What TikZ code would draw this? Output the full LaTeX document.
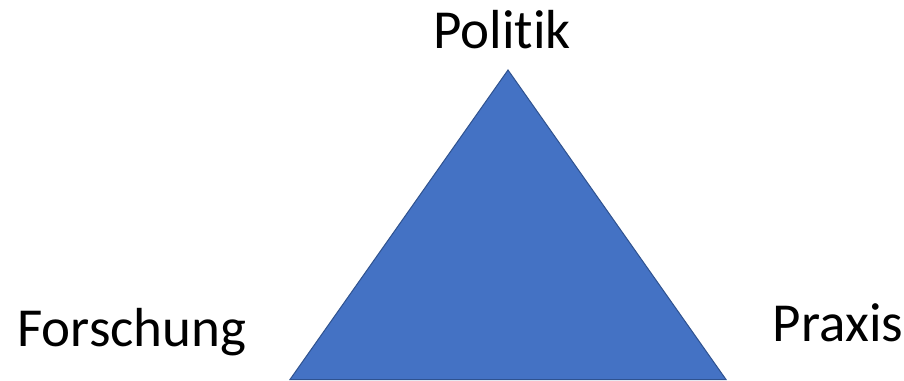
\documentclass[tikz,border=0pt]{standalone}
\usepackage{fontspec}
\setmainfont[Ligatures=NoCommon]{Carlito}
\usepackage{xcolor}
\definecolor{triblue}{HTML}{4472C4}
\definecolor{triedge}{HTML}{2F528F}
\usetikzlibrary{positioning}

\begin{document}
\begin{tikzpicture}[x=1pt,y=-1pt,label/.style={font=\fontsize{55}{66}\selectfont,anchor=base,inner sep=0pt}]
  \useasboundingbox (0,0) rectangle (904,380);
  \coordinate (top) at (508,70);
  \coordinate (left) at (290,379.5);
  \coordinate (right) at (726,379.5);
  \filldraw[fill=triblue,draw=triedge,line width=1pt,line join=miter] (top) -- (right) -- (left) -- cycle;
  \node[label] (politik) at (502,48) {Politik};
  \node[label] (forschung) at (132,346) {Forschung};
  \node[label] (praxis) at (838,341) {Praxis};
\end{tikzpicture}
\end{document}
